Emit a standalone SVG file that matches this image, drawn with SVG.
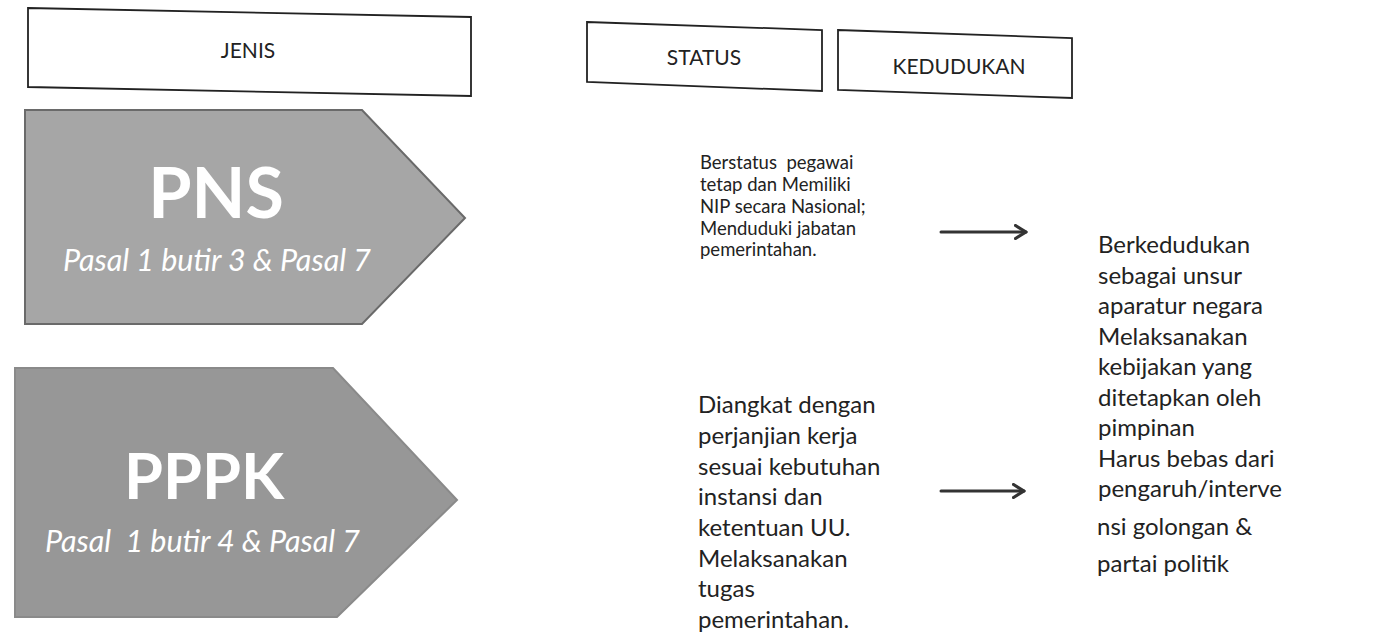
<svg xmlns="http://www.w3.org/2000/svg" width="1373" height="634" viewBox="0 0 1373 634">
<style>
.hdr{fill:#fff;stroke:#222;stroke-width:1.8}
.hdrt{font-family:Lato,"Liberation Sans",sans-serif;font-size:21px;fill:#222;text-anchor:middle}
.tag{stroke-width:2}
.big{font-family:Lato,"Liberation Sans",sans-serif;font-weight:bold;fill:#fff;text-anchor:middle}
.sub{font-family:Lato,"Liberation Sans",sans-serif;font-style:italic;fill:#fff;font-size:30.5px;white-space:pre}
.s1{font-family:Lato,"Liberation Sans",sans-serif;font-size:18.5px;fill:#222;white-space:pre}
.s2{font-family:Lato,"Liberation Sans",sans-serif;font-size:24px;fill:#222}
.k{font-family:Lato,"Liberation Sans",sans-serif;font-size:24px;fill:#222}
.conn{fill:none;stroke:#333;stroke-width:3;stroke-linecap:round}
</style>
<defs>
<marker id="chev" markerWidth="14" markerHeight="16" refX="12" refY="8" orient="auto" markerUnits="userSpaceOnUse">
<path d="M1.5,1.5 L12,8 L1.5,14.5" fill="none" stroke="#333" stroke-width="3.2" stroke-linecap="round" stroke-linejoin="round"/>
</marker>
</defs>
<rect width="1373" height="634" fill="#fff"/>
<g id="jenis">
<polygon class="hdr" points="28,8 471,17 471,96 28,87"/>
<text class="hdrt" x="248" y="58">JENIS</text>
</g>
<g id="status">
<polygon class="hdr" points="587,22 822,30 822,91 587,82"/>
<text class="hdrt" x="704" y="65">STATUS</text>
</g>
<g id="kedudukan">
<polygon class="hdr" points="838,30 1072,38 1072,98 838,90"/>
<text class="hdrt" x="959" y="74">KEDUDUKAN</text>
</g>
<g id="pns">
<polygon class="tag" points="25,110 362,110 465,218 362,324 25,324" fill="#a6a6a6" stroke="#6a6a6a"/>
<text class="big" x="216" y="218" font-size="70">PNS</text>
<text class="sub" x="63" y="271">Pasal 1 butir 3 &amp; Pasal 7</text>
</g>
<g id="pppk">
<polygon class="tag" points="15,368 333,368 457,500 337,617 15,617" fill="#979797" stroke="#8a8a8a"/>
<text class="big" x="204" y="499" font-size="63">PPPK</text>
<text class="sub" x="45" y="552">Pasal  1 butir 4 &amp; Pasal 7</text>
</g>
<g id="status-pns">
<text class="s1"><tspan x="700" y="169">Berstatus  pegawai</tspan><tspan x="700" y="191">tetap dan Memiliki</tspan><tspan x="700" y="213">NIP secara Nasional;</tspan><tspan x="700" y="235">Menduduki jabatan</tspan><tspan x="700" y="256">pemerintahan.</tspan></text>
</g>
<g id="status-pppk">
<text class="s2"><tspan x="698" y="413">Diangkat dengan</tspan><tspan x="698" y="444">perjanjian kerja</tspan><tspan x="698" y="475">sesuai kebutuhan</tspan><tspan x="698" y="505">instansi dan</tspan><tspan x="698" y="536">ketentuan UU.</tspan><tspan x="698" y="567">Melaksanakan</tspan><tspan x="698" y="597">tugas</tspan><tspan x="698" y="628">pemerintahan.</tspan></text>
</g>
<g id="kedudukan-text">
<text class="k"><tspan x="1098" y="253">Berkedudukan</tspan><tspan x="1098" y="283.5">sebagai unsur</tspan><tspan x="1098" y="314">aparatur negara</tspan><tspan x="1098" y="344.5">Melaksanakan</tspan><tspan x="1098" y="375">kebijakan yang</tspan><tspan x="1098" y="405.5">ditetapkan oleh</tspan><tspan x="1098" y="436">pimpinan</tspan><tspan x="1098" y="466.5">Harus bebas dari</tspan><tspan x="1098" y="497">pengaruh/interve</tspan><tspan x="1097" y="535">nsi golongan &amp;</tspan><tspan x="1097" y="572">partai politik</tspan></text>
</g>
<g id="connectors">
<path class="conn" d="M941,232 L1026,232" marker-end="url(#chev)"/>
<path class="conn" d="M941,491 L1024,491" marker-end="url(#chev)"/>
</g>
</svg>
